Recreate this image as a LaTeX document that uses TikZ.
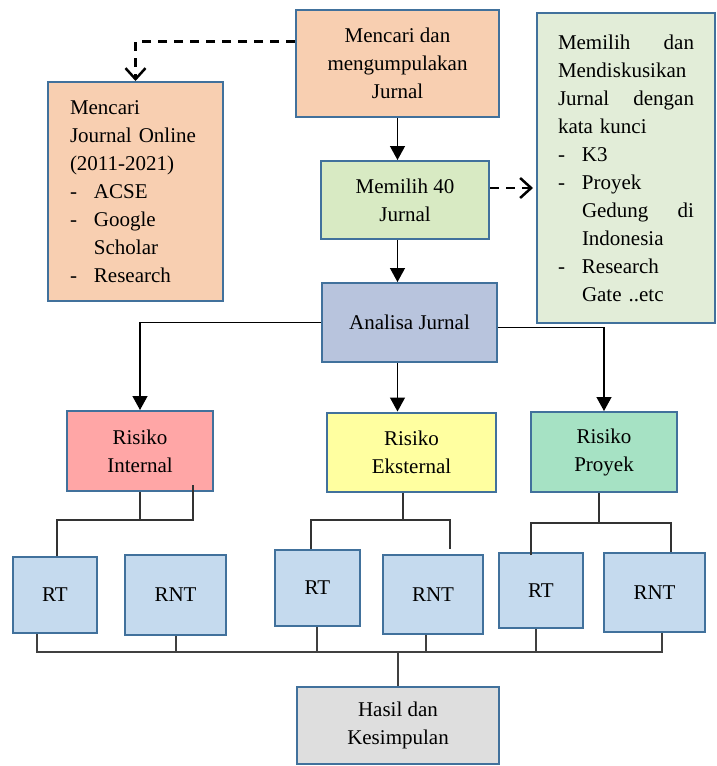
\documentclass[tikz,border=0pt]{standalone}
\usepackage{fontspec}
\setmainfont{Liberation Serif}
\usepackage{tikz}
\usetikzlibrary{arrows.meta,positioning}

\definecolor{boxline}{RGB}{65,113,156}
\definecolor{peach}{HTML}{F8CFB1}
\definecolor{palegreen}{HTML}{E2EDD8}
\definecolor{choice}{HTML}{D8EAC3}
\definecolor{study}{HTML}{B8C4DD}
\definecolor{riskin}{HTML}{FFA6A6}
\definecolor{riskex}{HTML}{FFFFA0}
\definecolor{riskpro}{HTML}{A6E2C4}
\definecolor{rtblue}{HTML}{C5DAEE}
\definecolor{result}{HTML}{DEDEDE}

\newcommand{\itm}[1]{\makebox[24pt][l]{-}#1}
\newcommand{\ind}{\hspace*{24pt}}
\newcommand{\spread}[3]{\leavevmode\hbox to #1{#2\hfill #3}}

\begin{document}
\begin{tikzpicture}[x=1pt,y=-1pt,
    box/.style={rectangle, draw=boxline, line width=2pt, align=center, inner sep=2pt, font=\fontsize{21}{28}\selectfont},
    link/.style={draw=black!80, line width=1.3pt},
    bus/.style={draw=black!75, line width=2pt},
    arr/.style={-{Triangle[width=15pt,length=14pt]}, line width=1.3pt},
    dasharr/.style={-{Straight Barb[width=20pt,length=11pt]}, line width=2.5pt, dash pattern=on 9pt off 7pt}]
        \useasboundingbox (0,0) rectangle (717,766);

        \node[box, fill=peach, minimum width=203, minimum height=107] (cari) at (397.5,63.5) {Mencari dan\\mengumpulakan\\Jurnal};
        \node[box, fill=peach, minimum width=175, minimum height=219, text width=131pt, align=left] (online) at (135.5,191.5) {Mencari\\Journal Online\\(2011-2021)\\\itm{ACSE}\\\itm{Google}\\\ind Scholar\\\itm{Research}};
        \node[box, fill=palegreen, minimum width=178, minimum height=310, text width=136pt, align=left] (diskusi) at (626,168) {\spread{136pt}{Memilih}{dan}\\Mendiskusikan\\\spread{136pt}{Jurnal}{dengan}\\kata kunci\\\itm{K3}\\\itm{Proyek}\\\ind\spread{112pt}{Gedung}{di}\\\ind Indonesia\\\itm{Research}\\\ind Gate ..etc};
        \node[box, fill=choice, minimum width=168, minimum height=78] (pilih) at (405,200) {Memilih 40\\Jurnal};
        \node[box, fill=study, minimum width=175, minimum height=79] (analisa) at (409.5,322.5) {Analisa Jurnal};

        \node[box, fill=riskin, minimum width=146, minimum height=80] (intern) at (140,451) {Risiko\\Internal};
        \node[box, fill=riskex, minimum width=169, minimum height=79] (ekstern) at (411.5,452) {Risiko\\Eksternal};
        \node[box, fill=riskpro, minimum width=146, minimum height=80] (proyek) at (604,452) {Risiko\\Proyek};

        \node[box, fill=rtblue, minimum width=84, minimum height=76] (rtA) at (55,595) {RT};
        \node[box, fill=rtblue, minimum width=101, minimum height=80] (rntA) at (175.5,595) {RNT};
        \node[box, fill=rtblue, minimum width=85, minimum height=76] (rtB) at (317.5,588) {RT};
        \node[box, fill=rtblue, minimum width=100, minimum height=79] (rntB) at (433,594.5) {RNT};
        \node[box, fill=rtblue, minimum width=84, minimum height=75] (rtC) at (541,590.5) {RT};
        \node[box, fill=rtblue, minimum width=101, minimum height=79] (rntC) at (654.5,592.5) {RNT};

        \node[box, fill=result, minimum width=202, minimum height=77] (hasil) at (398,725.5) {Hasil dan\\Kesimpulan};

        \draw[arr] (cari.south) -- (cari.south |- pilih.north);
        \draw[arr] (pilih.south -| cari.south) -- (cari.south |- analisa.north);
        \draw[dasharr] ([yshift=22pt]cari.west) -| (online.north);
        \draw[dasharr, shorten >=3pt] ([yshift=12pt]pilih.east) -- ([yshift=12pt]pilih.east -| diskusi.west);

        \draw[arr] (analisa.west) -| (intern.north);
        \draw[arr] (cari.south |- analisa.south) -- (cari.south |- ekstern.north);
        \draw[arr] ([yshift=-5pt]analisa.east) -| (proyek.north);

        \coordinate (splitA) at (140,520);
        \draw[link] (intern.south) -- (splitA);
        \draw[link] ([xshift=2pt]rtA.north) |- (splitA) -| ([xshift=53pt,yshift=7pt]intern.south);

        \coordinate (splitB) at (403,520);
        \draw[link] ([xshift=-8.5pt]ekstern.south) -- (splitB);
        \draw[link] ([xshift=-6.5pt]rtB.north) |- (splitB) -| ([xshift=17pt,yshift=5pt]rntB.north);

        \coordinate (splitC) at (599,523);
        \draw[link] ([xshift=-5pt]proyek.south) -- (splitC);
        \draw[link] ([xshift=-10pt,yshift=-3pt]rtC.north) |- (splitC) -| ([xshift=16.5pt]rntC.north);

        \coordinate (busK) at (398,652);
        \foreach \b/\s in {rtA/-18,rntA/0,rtB/-1,rntB/-7,rtC/-5,rntC/7.5}
          \draw[bus] ([xshift=\s pt]\b.south) |- (busK);
        \draw[bus] (busK) -- (hasil.north);
      \end{tikzpicture}
\end{document}
